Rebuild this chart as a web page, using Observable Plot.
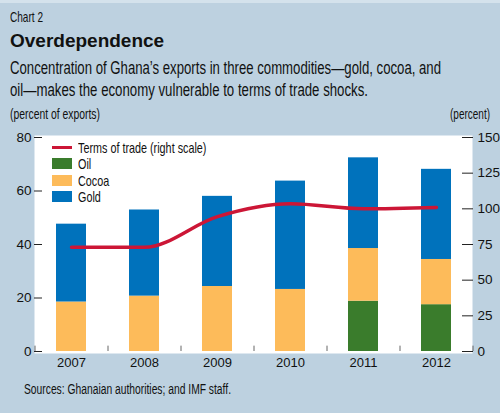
<!DOCTYPE html>
<html>
<head>
<meta charset="utf-8">
<script src="https://cdn.jsdelivr.net/npm/d3@7"></script>
<script src="https://cdn.jsdelivr.net/npm/@observablehq/plot@0.6"></script>
<style>
  html, body { margin: 0; padding: 0; }
  body { width: 500px; height: 413px; overflow: hidden; }
  #wrap { position: relative; width: 500px; height: 413px; background: #bdd1e0; border-top: 3px solid #d4e2ec; box-sizing: border-box; font-family: "Liberation Sans", Arial, sans-serif; color: #111; }
  .abs { position: absolute; white-space: nowrap; }
  .fit { display: inline-block; white-space: nowrap; transform-origin: left center; }
  #kicker { left: 10px; top: 7px; font-size: 14.5px; line-height: 15px; }
  #title { left: 10px; top: 27px; font-weight: bold; font-size: 19px; line-height: 22px; }
  #sub { left: 10px; top: 54px; font-size: 17.5px; line-height: 22px; }
  #unitL { left: 10px; top: 104px; font-size: 14px; line-height: 15px; }
  #unitR { right: 10px; top: 104px; font-size: 14px; line-height: 15px; }
  #chart { position: absolute; left: 0; top: 119px; }
  #legend { position: absolute; left: 52px; top: 136px; font-size: 15px; }
  .li { display: flex; align-items: center; height: 16.5px; }
  .sw { width: 20px; height: 11px; margin-right: 6px; flex: none; }
  .ln { width: 20px; height: 3.5px; margin-right: 6px; flex: none; }
  #src { left: 24px; top: 379px; font-size: 14px; line-height: 15px; }
</style>
</head>
<body>
<div id="wrap">
  <div id="kicker" class="abs"><span class="fit" data-w="33">Chart 2</span></div>
  <div id="title" class="abs">Overdependence</div>
  <div id="sub" class="abs"><span class="fit" data-w="431">Concentration of Ghana’s exports in three commodities—gold, cocoa, and</span><br><span class="fit" data-w="358">oil—makes the economy vulnerable to terms of trade shocks.</span></div>
  <div id="unitL" class="abs"><span class="fit" data-w="90">(percent of exports)</span></div>
  <div id="unitR" class="abs"><span class="fit" data-w="40" data-origin="right">(percent)</span></div>
  <div id="chart"></div>
  <div id="legend"></div>
  <div id="src" class="abs"><span class="fit" data-w="207">Sources: Ghanaian authorities; and IMF staff.</span></div>
</div>
<script>
const years = ["2007", "2008", "2009", "2010", "2011", "2012"];
const oil   = [0, 0, 0, 0, 18.8, 17.5];
const cocoa = [18.5, 20.7, 24.3, 23.2, 19.7, 16.9];
const gold  = [29.1, 32.2, 33.7, 40.5, 33.9, 33.7];
const termsOfTrade = [73, 73, 94.5, 103.5, 100, 101];
const commodities = ["Oil", "Cocoa", "Gold"];
const colors = ["#3a7c2c", "#fdbb5a", "#0072bc"];
const lineColor = "#cc1636";
const leftTicks = [0, 20, 40, 60, 80];
const rightTicks = [0, 25, 50, 75, 100, 125, 150];

const series = {Oil: oil, Cocoa: cocoa, Gold: gold};
const rows = [];
years.forEach((y, i) => commodities.forEach(c => rows.push({year: y, commodity: c, value: series[c][i]})));
const tot = years.map((y, i) => ({year: y, value: termsOfTrade[i]}));

const y2 = d3.scaleLinear([0, 150], [0, 80]);

const W = 500, H = 253, mL = 34, mR = 28;
const step = (W - mL - mR) / years.length;

const plot = Plot.plot({
  width: W, height: H,
  marginTop: 15, marginBottom: 24, marginLeft: mL, marginRight: mR,
  style: {fontFamily: '"Liberation Sans", Arial, sans-serif', fontSize: "12.5px", background: "transparent", color: "#111"},
  x: {domain: years, paddingInner: 0.59, paddingOuter: 0.295, label: null},
  y: {domain: [0, 80], label: null},
  color: {domain: commodities, range: colors},
  marks: [
    Plot.frame({fill: "white", stroke: null, insetTop: -2, insetBottom: -2}),
    Plot.barY(rows, {x: "year", y: "value", fill: "commodity", order: commodities}),
    Plot.ruleX(years, {x: d => d, dx: -step / 2, y1: 0, y2: 2, stroke: "#666"}),
    Plot.ruleX(years.slice(-1), {x: d => d, dx: step / 2, y1: 0, y2: 2, stroke: "#666"}),
    Plot.line(tot, {x: "year", y: d => y2(d.value), stroke: lineColor, strokeWidth: 3.5, curve: "monotone-x"}),
    Plot.axisX({tickSize: 0, tickPadding: 6, fontSize: 13}),
    Plot.axisY(leftTicks, {anchor: "left", tickSize: -8, tickPadding: 11, stroke: "#222", fontSize: 13.5}),
    Plot.axisY(rightTicks, {anchor: "right", y: y2, tickFormat: d => d, tickSize: -11, tickPadding: 16, stroke: "#222", fontSize: 13.5, label: null})
  ]
});
document.getElementById("chart").appendChild(plot);

const legendItems = [
  {label: "Terms of trade (right scale)", type: "line", color: lineColor},
  ...commodities.map((c, i) => ({label: c, type: "box", color: colors[i]}))
];
const lg = document.getElementById("legend");
legendItems.forEach(it => {
  const row = document.createElement("div");
  row.className = "li";
  const sw = document.createElement("span");
  sw.className = it.type === "line" ? "ln" : "sw";
  sw.style.background = it.color;
  const t = document.createElement("span");
  t.className = "fit";
  t.textContent = it.label;
  t.dataset.scale = "0.72";
  row.appendChild(sw); row.appendChild(t);
  lg.appendChild(row);
});

document.querySelectorAll(".fit").forEach(el => {
  let s;
  if (el.dataset.w) s = (+el.dataset.w) / el.getBoundingClientRect().width;
  else s = +(el.dataset.scale || 1);
  if (el.dataset.origin === "right") el.style.transformOrigin = "right center";
  el.style.transform = `scaleX(${s})`;
});
</script>
</body>
</html>
